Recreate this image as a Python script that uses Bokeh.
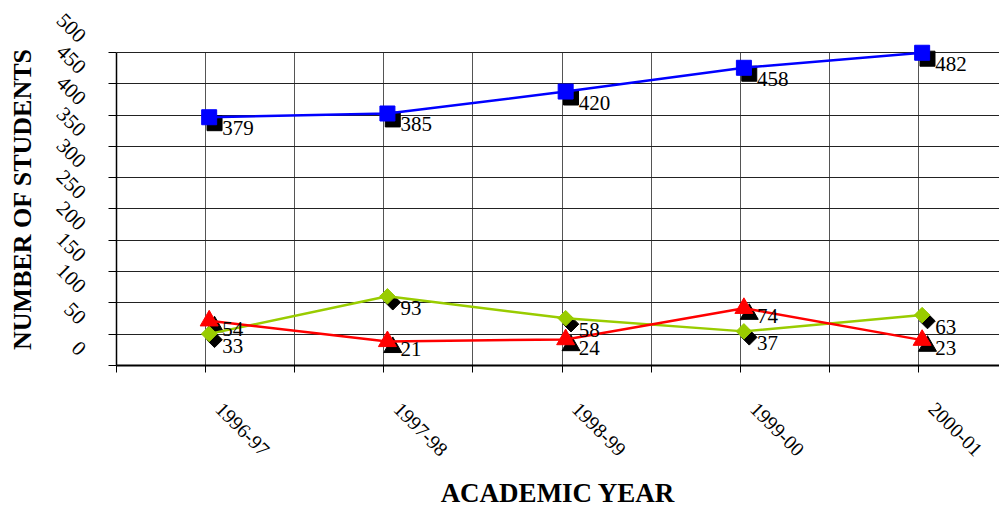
import math
from bokeh.plotting import figure
from bokeh.models import Range1d, FixedTicker, LinearAxis, Grid, BoxAnnotation, ColumnDataSource
from bokeh.transform import dodge
from bokeh.core.properties import value
from bokeh.embed import file_html
from bokeh.resources import INLINE

# ---------------- data ----------------
years = ["1996-97", "1997-98", "1998-99", "1999-00", "2000-01"]
blue_vals = [379, 385, 420, 458, 482]
green_vals = [33, 93, 58, 37, 63]
red_vals = [54, 21, 24, 74, 23]
y_tick_vals = [0, 50, 100, 150, 200, 250, 300, 350, 400, 450, 500]

FONT = "Liberation Serif"
GRID_SHIFT = -17.5          # horizontal gridlines sit below the value ticks in the original
GRID_X_SHIFT = -0.02        # vertical gridlines sit slightly left of the points
LABEL_SHIFT_Y = 4           # y value labels float slightly above their values
LABEL_SHIFT_X = 0.056       # year labels start slightly right of the points
KEY_DX, KEY_DY = 0.03, 9.5  # offset of the black legend-key markers (data units)

x_pos = list(range(len(years)))
ygrid_ticks = [t + GRID_SHIFT for t in y_tick_vals]
xgrid_ticks = [i * 0.5 - 0.5 + GRID_X_SHIFT for i in range(2 * len(years) + 1)]

X0, X1 = xgrid_ticks[0], 4.434
Y0, Y1 = GRID_SHIFT, 514.35

src = ColumnDataSource(dict(
    x=x_pos, year=years,
    blue=blue_vals, green=green_vals, red=red_vals,
    blue_lbl=[str(v) for v in blue_vals],
    green_lbl=[str(v) for v in green_vals],
    red_lbl=[str(v) for v in red_vals],
))

p = figure(width=999, height=510, output_backend="svg", toolbar_location=None,
           x_range=Range1d(X0, X1), y_range=Range1d(Y0, Y1),
           min_border_left=116, min_border_right=0, min_border_top=32, min_border_bottom=144)
p.extra_y_ranges = {"lab": Range1d(Y0 - LABEL_SHIFT_Y, Y1 - LABEL_SHIFT_Y)}
p.extra_x_ranges = {"xlab": Range1d(X0 - LABEL_SHIFT_X, X1 - LABEL_SHIFT_X)}
p.outline_line_color = None
p.background_fill_color = "white"
p.border_fill_color = "white"

# grids
p.xgrid.ticker = FixedTicker(ticks=xgrid_ticks)
p.ygrid.ticker = FixedTicker(ticks=ygrid_ticks)
p.xgrid.grid_line_color = "#555555"
p.ygrid.grid_line_color = "#222222"
p.xgrid.grid_line_width = 1
p.ygrid.grid_line_width = 1
if "cross_bounds" in Grid.properties():
    p.xgrid.cross_bounds = (ygrid_ticks[0], ygrid_ticks[-1])
else:
    cover = BoxAnnotation(bottom=ygrid_ticks[-1], fill_color="white", fill_alpha=1,
                          line_color=None, level="underlay")
    p.add_layout(cover)

# inner y axis: line + tick stubs at gridlines
ya = p.yaxis[0]
ya.ticker = FixedTicker(ticks=ygrid_ticks)
ya.bounds = (ygrid_ticks[0], ygrid_ticks[-1])
ya.major_label_overrides = {t: "" for t in ygrid_ticks}
ya.major_label_text_font_size = "0px"
ya.major_label_standoff = 0
ya.major_tick_out = 8
ya.major_tick_in = 0
ya.minor_tick_line_color = None
ya.axis_line_color = "black"
ya.axis_line_width = 1.5
ya.major_tick_line_color = "black"

# outer y axis: value labels + title
la = LinearAxis(y_range_name="lab", ticker=FixedTicker(ticks=y_tick_vals),
                axis_line_color=None, major_tick_line_color=None, minor_tick_line_color=None,
                major_label_orientation=-math.pi / 4, major_label_standoff=20,
                major_label_text_font=FONT, major_label_text_font_size="21px",
                major_label_text_color="black",
                axis_label="NUMBER OF STUDENTS", axis_label_text_font=FONT,
                axis_label_text_font_style="bold", axis_label_text_font_size="26px",
                axis_label_text_color="black", axis_label_standoff=10)
p.add_layout(la, "left")

# x axis (on a range shifted so the year labels start a little right of the points)
xa = p.xaxis[0]
xa.x_range_name = "xlab"
xa.ticker = FixedTicker(ticks=x_pos, minor_ticks=[t - LABEL_SHIFT_X for t in xgrid_ticks])
xa.major_label_overrides = {i: y for i, y in zip(x_pos, years)}
xa.major_label_orientation = -math.pi / 4
xa.major_label_standoff = 33
xa.major_label_text_font = FONT
xa.major_label_text_font_size = "20px"
xa.major_label_text_color = "black"
xa.major_tick_line_color = None
xa.major_tick_out = 7
xa.major_tick_in = 0
xa.minor_tick_out = 7
xa.minor_tick_in = 0
xa.minor_tick_line_color = "black"
xa.axis_line_color = "black"
xa.axis_line_width = 2
xa.axis_label = "ACADEMIC YEAR"
xa.axis_label_text_font = FONT
xa.axis_label_text_font_style = "bold"
xa.axis_label_text_font_size = "27px"
xa.axis_label_text_color = "black"
xa.axis_label_standoff = 12

series = [
    ("blue", "#0000FF", "square", 15, 0.0, 11),
    ("green", "#99CC00", "square", 11, math.pi / 4, 12),
    ("red", "#FF0000", "triangle", 18, 0.0, 8),
]

# black legend-key markers (behind)
for name, color, marker, size, ang, _ in series:
    p.scatter(x=dodge("x", KEY_DX), y=dodge(name, -KEY_DY), source=src,
              marker=marker, size=size, angle=ang, fill_color="black", line_color="black")

# lines
for name, color, marker, size, ang, _ in series:
    p.line(x="x", y=name, source=src, line_color=color, line_width=2.5)

# colored markers
for name, color, marker, size, ang, _ in series:
    p.scatter(x="x", y=name, source=src, marker=marker, size=size, angle=ang,
              fill_color=color, line_color=color)

# value labels
for name, color, marker, size, ang, yoff in series:
    p.text(x="x", y=name, text=name + "_lbl", source=src, x_offset=13, y_offset=yoff,
           text_align="left", text_baseline="middle", text_font=value(FONT),
           text_font_size="21px", text_color="black")

open("out.html", "w").write(file_html(p, INLINE))
